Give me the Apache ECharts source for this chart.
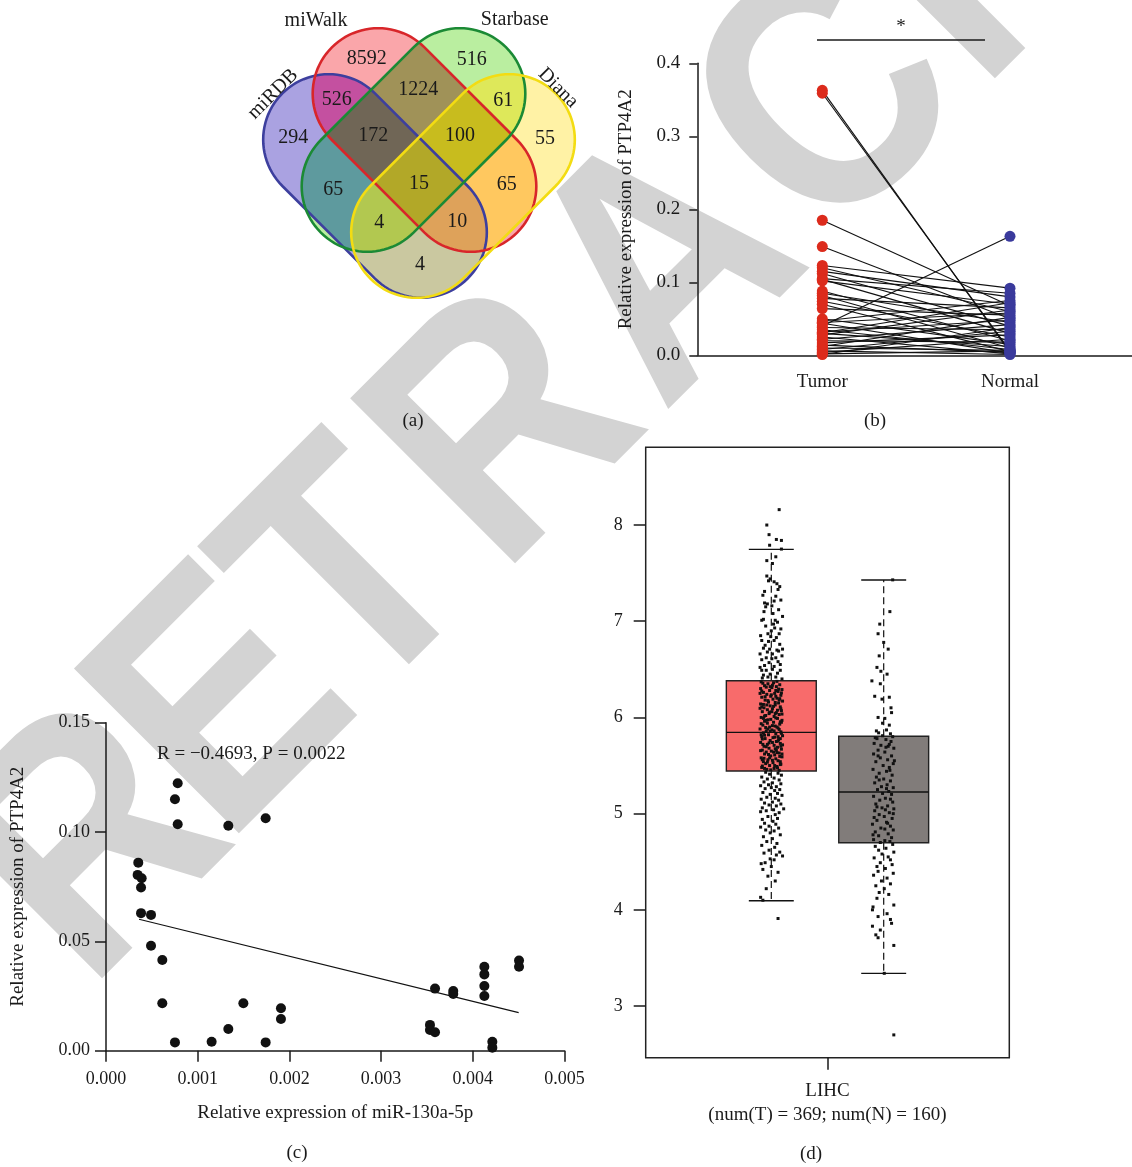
<!DOCTYPE html>
<html><head><meta charset="utf-8">
<script src="https://cdn.jsdelivr.net/npm/echarts@6/dist/echarts.min.js"></script>
<style>html,body{margin:0;padding:0;background:#fff}#c{width:1132px;height:1167px}</style>
</head><body><div id="c"></div>
<script>
// ---------------- DATA ----------------
// (a) Venn: sets and region counts (B=miRDB, R=miWalk, G=Starbase, Y=Diana)
const vennSetNames = {B:'miRDB', R:'miWalk', G:'Starbase', Y:'Diana'};
const vennCounts = {B:294, R:8592, G:516, Y:55, BR:526, BG:65, BY:4, RG:1224, RY:65, GY:61,
  BRG:172, BRY:10, BGY:4, RGY:100, BRGY:15};

// (b) paired tumor / normal PTP4A2 expression
const bGroups = ['Tumor', 'Normal'];
const bTumor  = [0.363,0.359,0.185,0.149,0.123,0.120,0.115,0.112,0.105,0.104,0.102,0.088,0.085,0.082,0.078,0.074,0.070,0.064,0.050,0.047,0.044,0.040,0.038,0.035,0.032,0.030,0.028,0.025,0.022,0.020,0.017,0.014,0.012,0.010,0.008,0.006,0.004,0.002,0.001,0.031,0.045];
const bNormal = [0.004,0.006,0.068,0.050,0.092,0.060,0.080,0.040,0.085,0.030,0.070,0.020,0.045,0.010,0.065,0.025,0.005,0.055,0.015,0.075,0.003,0.163,0.035,0.008,0.048,0.012,0.062,0.002,0.042,0.018,0.028,0.004,0.052,0.007,0.033,0.001,0.022,0.006,0.038,0.072,0.058];
const bSig = '*';

// (c) miR-130a-5p vs PTP4A2
const cMir = [0.000352,0.000345,0.000389,0.000382,0.000382,0.000491,0.000491,0.000614,0.000614,0.000782,0.000752,0.000782,0.000752,0.001152,0.001334,0.001334,0.001498,0.001741,0.001741,0.001908,0.001908,0.003533,0.003533,0.003588,0.003588,0.003787,0.003787,0.004126,0.004126,0.004126,0.004126,0.004213,0.004213,0.004504,0.004504];
const cPtp = [0.0860,0.0804,0.0789,0.0746,0.0629,0.0621,0.0480,0.0415,0.0217,0.1223,0.1150,0.1036,0.0038,0.0041,0.1029,0.0099,0.0217,0.1063,0.0038,0.0194,0.0145,0.0118,0.0095,0.0084,0.0284,0.0273,0.0259,0.0384,0.0349,0.0296,0.0250,0.0041,0.0014,0.0412,0.0384];
const cFitX = [0.00036, 0.0045];
const cFitY = [0.0601, 0.0174];
const cStat = 'R = \u22120.4693, P = 0.0022';

// (d) GEPIA LIHC boxplot: [min, Q1, median, Q3, max]
const dCategory = 'LIHC';
const dCounts = {T:369, N:160};
const dTumorBox  = [4.094, 5.443, 5.845, 6.382, 7.747];
const dNormalBox = [3.340, 4.697, 5.225, 5.804, 7.428];
const dTicks = [3,4,5,6,7,8];
// jittered points [offset, value]
const dTumorPts = [
[0.14,8.16],[-0.08,8.00],[-0.04,7.90],[0.09,7.85],[0.18,7.84],[-0.03,7.79],[0.18,7.75],[0.08,7.67],[-0.08,7.63],[0.02,7.60],
[-0.08,7.47],[-0.02,7.44],[0.05,7.41],[0.10,7.39],[0.12,7.33],[-0.12,7.31],[0.08,7.26],[-0.15,7.27],[-0.12,7.19],[-0.07,7.18],[0.01,7.16],[0.05,7.21],[-0.13,7.10],[0.03,7.08],[0.13,7.12],[-0.17,7.01],[-0.14,7.02],[0.07,7.01],[0.11,6.99],[0.20,7.05],[-0.05,7.42],[0.15,7.36],[-0.10,7.15],[0.17,7.22],
[0.06,6.93],[-0.06,6.87],[0,6.90],[0.14,6.87],[-0.17,6.80],[-0.05,6.79],[0.05,6.80],[0.15,6.76],[-0.14,6.72],[-0.03,6.71],[0.10,6.70],[0.19,6.64],[0.12,6.58],[-0.17,6.60],[-0.04,6.57],[0.05,6.53],[-0.17,6.49],[-0.09,6.49],[0.02,6.50],[0.16,6.49],[-0.14,6.44],[-0.06,6.42],[0.08,6.42],[0.19,6.40],[-0.10,6.95],[0.17,6.92],[-0.19,6.85],[0.09,6.83],[-0.11,6.75],[0.20,6.71],[-0.20,6.66],[0.02,6.66],[-0.09,6.62],[0.08,6.62],[0.16,6.55],[-0.12,6.54],[-0.20,6.52],[0.11,6.46],[-0.02,6.45],[-0.16,6.41],[0.04,6.97],[-0.01,6.84],[0.13,6.69],[-0.07,6.68],[0.01,6.61],
[-0.18,6.37],[0.04,6.36],[-0.06,6.35],[0.15,6.34],[-0.12,6.33],[0.09,6.32],[0.01,6.31],[-0.19,6.30],[0.19,6.29],[-0.03,6.28],[0.12,6.27],[-0.14,6.26],[0.06,6.25],[-0.08,6.24],[0.17,6.23],[-0.01,6.22],[-0.17,6.21],[0.10,6.20],[0.03,6.19],[-0.11,6.18],[0.20,6.17],[-0.05,6.16],[0.13,6.15],[-0.19,6.14],[0.07,6.13],[-0.02,6.12],[0.16,6.11],[-0.13,6.10],[0.02,6.09],[-0.07,6.08],[0.18,6.07],[-0.16,6.06],[0.09,6.05],[-0.04,6.04],[0.14,6.03],[-0.10,6.02],[0.05,6.01],[-0.18,6.00],[0.11,5.99],[-0.01,5.98],[0.19,5.97],[-0.12,5.96],[0.04,5.95],[-0.07,5.94],[0.15,5.93],[-0.15,5.92],[0.07,5.91],[-0.03,5.90],[0.12,5.89],[-0.20,5.88],[0.01,5.87],[-0.09,5.86],[0.17,5.85],[-0.14,5.84],[0.08,5.83],[-0.05,5.82],[0.20,5.81],[-0.17,5.80],[0.03,5.79],[-0.11,5.78],[0.13,5.77],[-0.02,5.76],[0.09,5.75],[-0.19,5.74],[0.16,5.73],[-0.07,5.72],[0.05,5.71],[-0.13,5.70],[0.11,5.69],[-0.04,5.68],[0.18,5.67],[-0.16,5.66],[0,5.65],[-0.09,5.64],[0.14,5.63],[-0.12,5.62],[0.06,5.61],[-0.01,5.60],[0.19,5.59],[-0.18,5.58],[0.08,5.57],[-0.06,5.56],[0.12,5.55],[-0.14,5.54],[0.03,5.53],[-0.10,5.52],[0.16,5.51],[-0.03,5.50],[0.10,5.49],[-0.17,5.48],[0.05,5.47],[-0.08,5.46],[0.14,5.45],
[0.10,6.375],[-0.15,6.355],[0.02,6.335],[-0.09,6.315],[0.13,6.295],[-0.17,6.275],[0.18,6.255],[0,6.235],[-0.11,6.215],[0.15,6.195],[-0.06,6.175],[0.07,6.155],[-0.14,6.135],[0.04,6.115],[-0.20,6.095],[0.11,6.075],[-0.03,6.055],[0.19,6.035],[-0.12,6.015],[0.08,5.995],[-0.06,5.975],[0.16,5.955],[-0.18,5.935],[0.02,5.915],[-0.10,5.895],[0.14,5.875],[-0.02,5.855],[0.18,5.835],[-0.12,5.815],[0.06,5.795],[-0.16,5.775],[0.12,5.755],[-0.04,5.735],[0.20,5.715],[-0.09,5.695],[0.07,5.675],[-0.19,5.655],[0.10,5.635],[-0.05,5.615],[0.15,5.595],[-0.13,5.575],[0.02,5.555],[-0.07,5.535],[0.17,5.515],[-0.16,5.495],[0.11,5.475],[-0.01,5.455],
[0.08,6.22],[0.14,6.18],[-0.08,6.13],[0.17,6.09],[0.07,6.04],[-0.14,5.99],[0.18,5.95],[0.10,5.90],[0.05,5.86],[-0.18,5.82],[0.16,5.78],[0.02,5.74],[0.17,5.70],[0.09,5.66],[0.19,5.62],[-0.03,5.58],[0.16,5.54],[0.06,5.50],[-0.12,5.47],[0.08,6.28],[-0.02,6.32],[0.01,6.06],[-0.09,5.97],[-0.06,5.88],[0.12,5.80],[-0.15,5.72],[0.04,5.64],[-0.16,5.56],[-0.17,6.11],[-0.20,6.25],
[-0.10,5.43],[0.12,5.42],[-0.03,5.41],[0.18,5.40],[-0.17,5.38],[0.05,5.37],[-0.07,5.36],[0.14,5.35],[-0.13,5.33],[0.02,5.32],[0.17,5.31],[-0.05,5.30],[-0.19,5.29],[0.09,5.28],[0,5.27],[-0.11,5.26],[0.15,5.25],[0.06,5.24],[-0.15,5.22],[0.11,5.21],[-0.02,5.20],[0.19,5.19],[-0.08,5.17],[0.07,5.16],[-0.18,5.15],[0.13,5.14],[0.02,5.12],[-0.12,5.11],[0.17,5.10],[-0.04,5.09],[0.09,5.08],[-0.16,5.06],[0.22,5.05],[0.04,5.04],[-0.09,5.03],[-0.19,5.02],[0.14,5.01],[0.07,4.99],[-0.06,4.97],[0.11,4.95],[-0.16,4.94],[0.03,4.92],[-0.12,4.90],[0.08,4.89],[-0.04,4.87],[-0.19,4.86],[0.13,4.85],[-0.10,4.83],[0.05,4.82],[-0.02,4.80],
[0.16,4.78],[-0.14,4.76],[0.02,4.74],[-0.08,4.71],[0.10,4.69],[-0.17,4.67],[0.06,4.65],[-0.04,4.62],[0.15,4.60],[-0.13,4.59],[0.09,4.57],[0.20,4.56],[-0.02,4.53],[0.05,4.52],[-0.11,4.49],[-0.18,4.48],[0,4.45],[-0.15,4.42],[0.12,4.39],[-0.06,4.35],[0.07,4.30],[-0.09,4.22],[-0.19,4.13],[-0.15,4.10],[0.12,3.91]
];
const dNormalPts = [
[0.16,7.43],[0.11,7.10],[-0.07,6.97],[-0.10,6.87],[0,6.78],[0.08,6.71],[-0.08,6.64],[-0.12,6.52],[-0.05,6.48],[0.06,6.45],[-0.21,6.38],[-0.06,6.35],[-0.16,6.22],[-0.03,6.19],[0.10,6.21],[0.13,6.10],[0.14,6.05],[-0.10,6.00],[0.02,5.99],[-0.02,5.94],[0.10,5.92],[-0.13,5.86],[0.05,5.87],
[-0.09,5.84],[0.12,5.83],[-0.02,5.81],[0.16,5.80],[-0.12,5.78],[0.04,5.77],[0.13,5.75],[-0.17,5.73],[-0.05,5.71],[0.08,5.70],[0.18,5.68],[-0.10,5.66],[0.02,5.64],[-0.18,5.62],[0.14,5.60],[-0.06,5.58],[0.07,5.56],[-0.14,5.54],[0.17,5.52],[-0.01,5.50],[0.10,5.48],[-0.19,5.46],[0.05,5.44],[-0.08,5.42],[0.15,5.40],[-0.13,5.38],[0,5.36],[0.12,5.34],[-0.16,5.32],[0.06,5.30],[-0.04,5.28],[0.17,5.27],[-0.11,5.25],[0.09,5.23],[-0.02,5.21],[0.14,5.20],[-0.18,5.18],[0.03,5.16],[-0.07,5.14],[0.16,5.12],[-0.14,5.10],[0.07,5.08],[-0.03,5.06],[0.18,5.05],[-0.16,5.03],[0.10,5.01],[-0.08,4.99],[0.01,4.97],[0.15,4.95],[-0.12,4.93],[0.05,4.91],[-0.20,4.89],[0.12,4.87],[-0.05,4.85],[0.17,4.83],[-0.15,4.81],[0.08,4.79],[-0.09,4.77],[0.14,4.75],[-0.18,4.73],[0.02,4.72],[0.11,4.71],[-0.06,4.70],
[0.10,5.72],[0.19,5.55],[0.11,5.45],[-0.08,5.35],[0.05,5.26],[0.12,5.15],[-0.12,5.07],[0.03,5.04],[0.17,5.00],[-0.17,4.96],[0.07,4.90],[0.02,4.84],[-0.19,4.78],[-0.10,5.60],[0.04,5.69],[-0.15,5.79],
[0.16,4.68],[-0.15,4.66],[0.04,4.64],[-0.09,4.62],[0.18,4.60],[-0.03,4.58],[0.08,4.55],[-0.17,4.54],[0.12,4.52],[-0.06,4.49],[0.15,4.47],[-0.12,4.45],[0.03,4.43],[-0.10,4.40],[0.17,4.38],[-0.18,4.36],[0.06,4.33],[-0.04,4.30],[0.12,4.27],[-0.14,4.25],[0.01,4.22],[-0.08,4.18],[0.09,4.16],[-0.12,4.12],[0.18,4.05],[-0.19,4.03],[-0.20,4.00],[0.06,3.96],[-0.10,3.93],[0.12,3.90],[0.14,3.86],[-0.20,3.83],[-0.06,3.79],[-0.14,3.74],[-0.10,3.71],[0.18,3.63],[0.01,3.34],[0.18,2.70]
];

// ---------------- LAYOUT / STYLE ----------------
const SERIF = '"Liberation Serif","DejaVu Serif",serif';
const INK = '#1a1a1a';
// watermark (decoration): one glyph per position
const wmText = 'RETRACTED';
const wmCenters = [[98,850],[229,711],[358,583],[511,435],[673,272],[835,108],[944,-3],[1078,-137],[1230,-288]];

const vennLen = 262, vennWid = 131;
const vennShapes = [
  {k:'B', cx:375,   cy:186, ang:45,  stroke:'#3d3f9e'},
  {k:'R', cx:424.5, cy:140, ang:45,  stroke:'#d8262a'},
  {k:'G', cx:413.5, cy:140, ang:-45, stroke:'#1b8a35'},
  {k:'Y', cx:463,   cy:186, ang:-45, stroke:'#f3dc12'}
];
const vennRegionColor = {B:'#aaa2e1',R:'#faa6aa',G:'#baeea0',Y:'#fff2a5',BR:'#c450a0',BG:'#5e9a9e',BY:'#cac8a0',
  RG:'#a09258',RY:'#ffc85f',GY:'#dee85a',BRG:'#706656',BRY:'#dea25a',BGY:'#b2c850',RGY:'#c8bc1e',BRGY:'#b2a828'};
const vennLabelPos = {R:[366.7,58.3],G:[471.7,59.3],BR:[336.7,99.3],RG:[418.3,90],GY:[503.3,101],B:[293.3,137.3],
  BRG:[373.3,135.7],RGY:[460,135.7],Y:[545,138.3],BG:[333.3,189.3],BRGY:[419,183.3],RY:[506.7,184.3],
  BGY:[379.3,222.7],BRY:[457.3,221.7],BY:[420,264.3]};
const vennNamePos = {B:[273,94,Math.PI/4],R:[316,20.7,0],G:[514.7,20,0],Y:[558,88,-Math.PI/4]};

function stadium(cx, cy, angDeg){
  const a = angDeg*Math.PI/180, ux = Math.cos(a), uy = Math.sin(a), h = (vennLen-vennWid)/2, r = vennWid/2, N = 48;
  const pts = [];
  for (let i=0;i<=N;i++){ const t=a-Math.PI/2+Math.PI*i/N; pts.push([cx+h*ux+r*Math.cos(t), cy+h*uy+r*Math.sin(t)]); }
  for (let i=0;i<=N;i++){ const t=a+Math.PI/2+Math.PI*i/N; pts.push([cx-h*ux+r*Math.cos(t), cy-h*uy+r*Math.sin(t)]); }
  return pts;
}
function area(p){ let s=0; for(let i=0;i<p.length;i++){const a=p[i],b=p[(i+1)%p.length]; s+=a[0]*b[1]-b[0]*a[1];} return s; }
function clip(subject, clipPoly){
  const sg = Math.sign(area(clipPoly));
  const cross=(a,b,p)=>(b[0]-a[0])*(p[1]-a[1])-(b[1]-a[1])*(p[0]-a[0]);
  let out = subject;
  for (let i=0;i<clipPoly.length && out.length;i++){
    const a=clipPoly[i], b=clipPoly[(i+1)%clipPoly.length];
    const inp=out; out=[];
    const ins=p=>cross(a,b,p)*sg>=0;
    const inter=(S,E)=>{ const d=[b[0]-a[0],b[1]-a[1]];
      const c1=d[0]*(S[1]-a[1])-d[1]*(S[0]-a[0]); const c2=d[0]*(E[1]-S[1])-d[1]*(E[0]-S[0]);
      const t=-c1/c2; return [S[0]+t*(E[0]-S[0]), S[1]+t*(E[1]-S[1])]; };
    for (let j=0;j<inp.length;j++){
      const E=inp[j], S=inp[(j+inp.length-1)%inp.length];
      if (ins(E)){ if(!ins(S)) out.push(inter(S,E)); out.push(E); }
      else if (ins(S)) out.push(inter(S,E));
    }
  }
  return out;
}
const polys = vennShapes.map(s=>stadium(s.cx,s.cy,s.ang));
const subsets = [];
for (let m=1;m<16;m++){ subsets.push([0,1,2,3].filter(i=>m&(1<<i))); }
subsets.sort((a,b)=>a.length-b.length);
const vennGraphics = [];
subsets.forEach(idx=>{
  let p = polys[idx[0]];
  for (let q=1;q<idx.length;q++) p = clip(p, polys[idx[q]]);
  const key = idx.map(i=>vennShapes[i].k).join('');
  if (p.length>2) vennGraphics.push({type:'polygon', z:5, shape:{points:p}, style:{fill:vennRegionColor[key], stroke:null}});
});
vennShapes.forEach((s,i)=>vennGraphics.push({type:'polygon', z:6, shape:{points:polys[i]}, style:{fill:null, stroke:s.stroke, lineWidth:2.6}}));
function txt(x,y,text,size,opt){
  return Object.assign({type:'text', x:x, y:y, z:8, style:{text:text, font:size+'px '+SERIF, fill:INK,
    align:'center', verticalAlign:'middle', textAlign:'center', textVerticalAlign:'middle'}}, opt||{});
}
Object.keys(vennCounts).forEach(k=>{ const p=vennLabelPos[k]; vennGraphics.push(txt(p[0],p[1],String(vennCounts[k]),20)); });
Object.keys(vennSetNames).forEach(k=>{ const p=vennNamePos[k]; vennGraphics.push(txt(p[0],p[1],vennSetNames[k],20,{rotation:p[2]})); });

const wmGraphics = wmText.split('').map((ch,i)=>({type:'text', x:wmCenters[i][0], y:wmCenters[i][1], z:-10, silent:true,
  rotation:Math.PI/4, scaleX:0.88,
  style:{text:ch, font:'bold 339px "Liberation Sans", Arial, sans-serif', fill:'#d3d3d3',
    align:'center', verticalAlign:'middle', textAlign:'center', textVerticalAlign:'middle'}}));

const tickFont = {fontFamily:SERIF, color:INK};
const axLine = {show:true, onZero:false, lineStyle:{color:INK, width:1.5}};

const option = {
  animation:false,
  backgroundColor:'#fff',
  grid:[
    {left:697.3, top:63.3, width:434.7, height:292},
    {left:106, top:722.7, width:458.5, height:328},
    {left:645.7, top:447.3, width:363.6, height:610.4, show:true, borderColor:'#222', borderWidth:1.5, backgroundColor:'#fff'}
  ],
  xAxis:[
    {gridIndex:0, type:'value', min:0.334, max:2.65, axisLine:axLine, axisTick:{show:false}, splitLine:{show:false},
     axisLabel:Object.assign({customValues:[1,2], formatter:v=>bGroups[Math.round(v)-1], fontSize:19, margin:17}, tickFont)},
    {gridIndex:1, type:'value', min:0, max:0.005, interval:0.001, axisLine:axLine, splitLine:{show:false},
     axisTick:{length:11, lineStyle:{color:INK, width:1.5}},
     axisLabel:Object.assign({formatter:v=>v.toFixed(3), fontSize:18, margin:20, showMaxLabel:true, showMinLabel:true}, tickFont),
     name:'Relative expression of miR-130a-5p', nameLocation:'middle', nameGap:53, nameTextStyle:{fontSize:19, fontFamily:SERIF, color:INK}},
    {gridIndex:2, type:'value', min:-3.235, max:3.235, axisLine:{show:false, onZero:false}, splitLine:{show:false},
     axisTick:{customValues:[0], length:12, lineStyle:{color:INK, width:1.5}},
     axisLabel:Object.assign({customValues:[0], formatter:()=>dCategory+'\n(num(T) = '+dCounts.T+'; num(N) = '+dCounts.N+')', fontSize:19, lineHeight:24, margin:21}, tickFont)}
  ],
  yAxis:[
    {gridIndex:0, type:'value', min:0, max:0.4, interval:0.1, axisLine:axLine, splitLine:{show:false},
     axisTick:{length:8, lineStyle:{color:INK, width:1.5}},
     axisLabel:Object.assign({formatter:v=>v.toFixed(1), fontSize:19, margin:17}, tickFont),
     name:'Relative expression of PTP4A2', nameLocation:'middle', nameGap:62, nameTextStyle:{fontSize:19, fontFamily:SERIF, color:INK}},
    {gridIndex:1, type:'value', min:0, max:0.15, interval:0.05, axisLine:axLine, splitLine:{show:false},
     axisTick:{length:11, lineStyle:{color:INK, width:1.5}},
     axisLabel:Object.assign({formatter:v=>v.toFixed(2), fontSize:18, margin:16}, tickFont),
     name:'Relative expression of PTP4A2', nameLocation:'middle', nameGap:78, nameTextStyle:{fontSize:19, fontFamily:SERIF, color:INK}},
    {gridIndex:2, type:'value', min:2.463, max:8.808, axisLine:{show:false, onZero:false}, splitLine:{show:false},
     axisTick:{customValues:dTicks, length:12, lineStyle:{color:INK, width:1.5}},
     axisLabel:Object.assign({customValues:dTicks, fontSize:18, margin:23}, tickFont)}
  ],
  series:[
    {type:'lines', coordinateSystem:'cartesian2d', xAxisIndex:0, yAxisIndex:0, z:2, silent:true,
     lineStyle:{color:'#111', width:1.1, opacity:1},
     data:bTumor.map((t,i)=>({coords:[[1,t],[2,bNormal[i]]]}))},
    {type:'scatter', xAxisIndex:0, yAxisIndex:0, z:3, symbolSize:11, itemStyle:{color:'#dc2b1c', opacity:1},
     data:bTumor.map(v=>[1,v])},
    {type:'scatter', xAxisIndex:0, yAxisIndex:0, z:3, symbolSize:11, itemStyle:{color:'#3a3a9c', opacity:1},
     data:bNormal.map(v=>[2,v])},
    {type:'scatter', xAxisIndex:1, yAxisIndex:1, z:3, symbolSize:10, itemStyle:{color:'#111', opacity:1},
     data:cMir.map((x,i)=>[x,cPtp[i]])},
    {type:'line', xAxisIndex:1, yAxisIndex:1, z:2, showSymbol:false, lineStyle:{color:'#111', width:1.2},
     data:cFitX.map((x,i)=>[x,cFitY[i]])},
    {type:'custom', xAxisIndex:2, yAxisIndex:2, z:2,
     data:[[-1].concat(dTumorBox), [1].concat(dNormalBox)],
     renderItem:function(params, api){
       const x=api.value(0);
       const y=[1,2,3,4,5].map(i=>api.coord([x, api.value(i)])[1]);
       const cx=api.coord([x, api.value(3)])[0];
       const hw=api.size([1.6,0])[0]/2, cw=api.size([0.8,0])[0]/2;
       const fill=['#f86b6b','#817c7a'][params.dataIndex];
       const dash={stroke:'#111', lineWidth:1.2, lineDash:[7,4]};
       const solid={stroke:'#111', lineWidth:1.4};
       return {type:'group', children:[
         {type:'line', shape:{x1:cx,y1:y[3],x2:cx,y2:y[4]}, style:dash},
         {type:'line', shape:{x1:cx,y1:y[1],x2:cx,y2:y[0]}, style:dash},
         {type:'line', shape:{x1:cx-cw,y1:y[4],x2:cx+cw,y2:y[4]}, style:solid},
         {type:'line', shape:{x1:cx-cw,y1:y[0],x2:cx+cw,y2:y[0]}, style:solid},
         {type:'rect', shape:{x:cx-hw,y:y[3],width:2*hw,height:y[1]-y[3]}, style:{fill:fill, stroke:'#222', lineWidth:1.4}},
         {type:'line', shape:{x1:cx-hw,y1:y[2],x2:cx+hw,y2:y[2]}, style:solid}
       ]};
     }},
    {type:'scatter', xAxisIndex:2, yAxisIndex:2, z:4, symbol:'rect', symbolSize:3, itemStyle:{color:'#111', opacity:1},
     data:dTumorPts.map(p=>[-1+p[0], p[1]])},
    {type:'scatter', xAxisIndex:2, yAxisIndex:2, z:4, symbol:'rect', symbolSize:3, itemStyle:{color:'#111', opacity:1},
     data:dNormalPts.map(p=>[1+p[0], p[1]])}
  ],
  graphic:{elements:wmGraphics.concat(vennGraphics).concat([
    {type:'line', z:8, shape:{x1:817, y1:40, x2:985, y2:40}, style:{stroke:INK, lineWidth:1.3}},
    txt(901, 27, bSig, 19),
    {type:'text', x:157, y:754, z:8, style:{text:cStat, font:'19px '+SERIF, fill:INK, align:'left', verticalAlign:'middle', textAlign:'left', textVerticalAlign:'middle'}},
    txt(413, 421, '(a)', 19), txt(875, 421, '(b)', 19), txt(297, 1153, '(c)', 19), txt(811, 1154, '(d)', 19)
  ])}
};
const chart = echarts.init(document.getElementById('c'), null, {renderer:'canvas', width:1132, height:1167});
chart.setOption(option);
</script></body></html>
